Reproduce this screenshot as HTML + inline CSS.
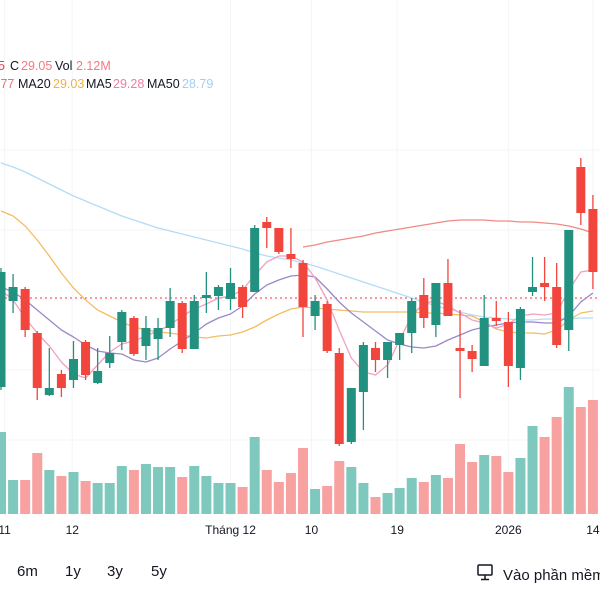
<!DOCTYPE html>
<html><head><meta charset="utf-8">
<style>
html,body{margin:0;padding:0;background:#fff;width:600px;height:600px;overflow:hidden;font-family:"Liberation Sans","DejaVu Sans",sans-serif;}
svg{position:absolute;left:0;top:0}
</style></head>
<body>
<svg id="chart" width="600" height="600" viewBox="0 0 600 600" xmlns="http://www.w3.org/2000/svg">
  <g id="grid"></g>
  <g id="vol"></g>
  <line x1="0" y1="298" x2="600" y2="298" stroke="#f23645" stroke-width="1" stroke-dasharray="2,3"/>
  <g id="mas"></g>
  <g id="candles"></g>
  <g font-size="12.5">
    <text x="-2" y="70" fill="#f23645">5</text>
    <text x="10" y="70" fill="#131722">C</text>
    <text x="21" y="70" fill="#f7787f">29.05</text>
    <text x="55" y="70" fill="#131722">Vol</text>
    <text x="76" y="70" fill="#f7787f">2.12M</text>
  </g>
  <g font-size="12.5">
    <text x="-3" y="88" fill="#f07070">.77</text>
    <text x="18" y="88" fill="#131722">MA20</text>
    <text x="53" y="88" fill="#f0b04a">29.03</text>
    <text x="86" y="88" fill="#131722">MA5</text>
    <text x="113" y="88" fill="#ec7fa0">29.28</text>
    <text x="147" y="88" fill="#131722">MA50</text>
    <text x="182" y="88" fill="#9fd0f5">28.79</text>
  </g>
  <g id="xaxis" font-size="12" fill="#131722"></g>
  <g font-size="15" fill="#131722">
    <text x="17" y="576">6m</text>
    <text x="65" y="576">1y</text>
    <text x="107" y="576">3y</text>
    <text x="151" y="576">5y</text>
  </g>
  <g>
    <g fill="none" stroke="#131722" stroke-width="1.5">
      <rect x="478" y="565" width="14" height="10" rx="1"/>
      <line x1="485" y1="575" x2="485" y2="579"/>
      <line x1="481" y1="579.5" x2="489" y2="579.5"/>
    </g>
    <text x="503" y="580" font-size="15" fill="#131722">Vào phần mềm</text>
  </g>
</svg>
<script>
const opens  = [28.16,29.02,29.14,28.70,28.08,28.29,28.23,28.61,28.20,28.40,28.61,28.85,28.57,28.64,28.75,29.00,28.54,29.05,29.07,29.04,29.16,29.11,29.81,29.75,29.49,29.40,28.87,28.99,28.50,27.61,28.11,28.55,28.43,28.58,28.70,29.08,28.78,29.20,28.55,28.52,28.37,28.85,28.81,28.35,29.11,29.20,29.16,28.73,30.36,29.94];
const highs  = [29.35,29.29,29.16,28.72,28.55,28.33,28.62,28.63,28.55,28.67,28.93,28.87,28.87,28.85,29.15,29.02,29.08,29.31,29.18,29.35,29.18,29.78,29.86,29.75,29.75,29.43,29.08,29.02,28.55,28.15,28.61,28.61,28.61,28.70,29.05,29.25,29.20,29.44,28.93,28.58,29.08,29.02,28.91,28.96,29.46,29.46,29.40,29.73,30.45,30.08];
const lows   = [28.13,28.90,28.66,28.03,28.07,28.06,28.15,28.23,28.19,28.35,28.53,28.47,28.43,28.43,28.66,28.50,28.54,28.90,28.93,28.93,28.85,29.11,29.55,29.49,29.35,28.66,28.73,28.50,27.57,27.59,27.73,28.31,28.25,28.43,28.50,28.75,28.66,28.87,28.05,28.31,28.37,28.77,28.16,28.23,29.07,29.02,28.55,28.52,29.78,29.14];
const closes = [29.31,29.16,28.73,28.15,28.15,28.15,28.44,28.28,28.32,28.50,28.91,28.49,28.75,28.75,29.02,28.54,29.02,29.08,29.16,29.20,28.96,29.75,29.75,29.51,29.44,28.96,29.02,28.52,27.59,28.15,28.58,28.43,28.61,28.70,29.02,28.85,29.20,28.87,28.52,28.44,28.85,28.82,28.37,28.94,29.16,29.16,28.58,29.73,29.90,29.31];
const volumes = [3.28,1.36,1.36,2.44,1.76,1.52,1.68,1.32,1.24,1.24,1.92,1.76,2.00,1.88,1.88,1.48,1.92,1.52,1.24,1.24,1.08,3.08,1.76,1.28,1.64,2.64,1.00,1.12,2.12,1.88,1.24,0.68,0.84,1.04,1.44,1.28,1.56,1.44,2.80,2.08,2.36,2.32,1.68,2.24,3.52,3.08,3.88,5.08,4.28,4.56];
const ma5  = [29.13,29.03,28.85,28.70,28.57,28.41,28.29,28.25,28.38,28.51,28.59,28.62,28.67,28.72,28.78,28.87,28.94,28.99,29.05,29.07,29.13,29.28,29.41,29.47,29.47,29.41,29.25,29.03,28.73,28.45,28.31,28.28,28.38,28.63,28.87,29.00,29.02,28.97,28.90,28.83,28.80,28.75,28.79,28.87,28.89,28.88,28.90,29.13,29.31,29.33];
const ma10 = [29.16,29.11,29.03,28.93,28.83,28.73,28.66,28.58,28.52,28.50,28.49,28.43,28.41,28.45,28.54,28.62,28.70,28.79,28.85,28.89,28.97,29.09,29.18,29.23,29.27,29.28,29.26,29.14,29.01,28.90,28.81,28.72,28.63,28.59,28.56,28.55,28.57,28.63,28.68,28.73,28.76,28.78,28.80,28.81,28.81,28.80,28.80,28.87,29.01,29.10];
const ma20 = [29.92,29.87,29.77,29.63,29.47,29.30,29.15,29.03,28.93,28.87,28.81,28.76,28.73,28.71,28.70,28.68,28.66,28.65,28.67,28.68,28.71,28.76,28.83,28.89,28.94,28.96,28.95,28.94,28.93,28.92,28.91,28.91,28.91,28.91,28.91,28.90,28.90,28.89,28.88,28.87,28.81,28.74,28.71,28.70,28.70,28.69,28.73,28.83,28.90,28.92];
const ma50 = [30.40,30.36,30.31,30.25,30.19,30.13,30.07,30.02,29.97,29.92,29.87,29.83,29.79,29.75,29.72,29.69,29.66,29.63,29.60,29.57,29.54,29.50,29.47,29.45,29.43,29.40,29.37,29.33,29.29,29.25,29.21,29.17,29.13,29.09,29.05,29.01,28.97,28.94,28.91,28.88,28.86,28.85,28.84,28.83,28.83,28.84,28.84,28.84,28.85,28.85];
const ma200 = [null,null,null,null,null,null,null,null,null,null,null,null,null,null,null,null,null,null,null,null,null,null,null,null,null,29.56,29.58,29.61,29.63,29.65,29.67,29.70,29.72,29.74,29.76,29.78,29.80,29.82,29.83,29.83,29.83,29.82,29.82,29.81,29.81,29.80,29.79,29.77,29.74,29.70];
const tickLabels = ["11","12","Tháng 12","10","19","2026","14"];
const tickIndex = [0.3,5.9,19,25.7,32.8,42,49];

const NS="http://www.w3.org/2000/svg";
function xS(i){return 1+12.08*i;}
function yS(p){return (32.03-p)*100;}
function vS(v){return 514-v*25;}
function mk(tag,attrs,parent){const e=document.createElementNS(NS,tag);for(const k in attrs)e.setAttribute(k,attrs[k]);parent.appendChild(e);return e;}

const grid=document.getElementById('grid');
[150,230,300,370,440,510].forEach(function(y){
  const l=mk('line',{x1:0,x2:600,y1:y,y2:y,stroke:'#f4f5f7','stroke-width':1},grid);
  
  
});
tickIndex.forEach(function(t){
  const l=mk('line',{x1:xS(t),x2:xS(t),y1:0,y2:515,stroke:'#f4f5f7','stroke-width':1},grid);
  
  
});

const vol=document.getElementById('vol');
volumes.forEach(function(v,i){
  const up=closes[i]>=opens[i];
  const r=mk('rect',{x:xS(i)-5,y:vS(v),width:10,height:514-vS(v),fill:up?'#7fc8bd':'#f7a1a1'},vol);
  
  
});

const mas=document.getElementById('mas');
function line(arr,color,name){
  let d='';let started=false;
  arr.forEach(function(v,i){if(v==null)return;d+=(started?'L':'M')+xS(i).toFixed(1)+' '+yS(v).toFixed(1)+' ';started=true;});
  const p=mk('path',{d:d,fill:'none',stroke:color,'stroke-width':1.3,'stroke-linejoin':'round'},mas);
  
  
}
line(ma50,'#b3dcf7','ma50-line');
line(ma200,'#f08a84','ma200-line');
line(ma20,'#f3bd62','ma20-line');
line(ma10,'#9a88c8','ma10-line');
line(ma5,'#f2a0bd','ma5-line');

const cg=document.getElementById('candles');
opens.forEach(function(o,i){
  const c=closes[i],up=c>=o,col=up?'#22917f':'#f2453d';
  const x=xS(i);
  const g=mk('g',{},cg);
  
  
  mk('line',{x1:x,x2:x,y1:yS(highs[i]),y2:yS(lows[i]),stroke:col,'stroke-width':1.3},g);
  const top=yS(Math.max(o,c)),bot=yS(Math.min(o,c));
  mk('rect',{x:x-4.5,y:top,width:9,height:Math.max(1.5,bot-top),fill:col},g);
});

const xa=document.getElementById('xaxis');
tickLabels.forEach(function(t,i){
  const tx=mk('text',{x:xS(tickIndex[i]),y:534,'text-anchor':'middle'},xa);
  tx.textContent=t;
  
  
});
</script>
</body></html>
